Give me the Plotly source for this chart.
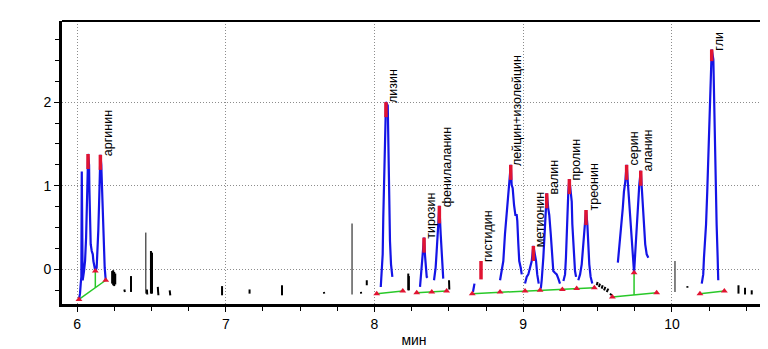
import plotly.graph_objects as go

# ---------------- data (time, min ; signal) ----------------
arg_t = [6.013, 6.020, 6.025, 6.029, 6.032, 6.034, 6.038, 6.047, 6.054, 6.061, 6.065, 6.069, 6.072, 6.074,
         6.081, 6.083, 6.085, 6.087, 6.092, 6.099, 6.106, 6.110, 6.116, 6.123, 6.132, 6.139, 6.143, 6.148,
         6.153, 6.157, 6.163, 6.168, 6.173, 6.177, 6.182, 6.186, 6.193]
arg_y = [-0.36, -0.29, -0.17, -0.09, 1.17, -0.02, -0.13, -0.02, 0.10, 0.38, 0.58, 0.85, 1.17, 1.38,
         1.25, 0.97, 0.77, 0.50, 0.30, 0.22, 0.18, 0.10, 0.04, -0.02, 0.02, 0.22, 0.46, 0.77,
         1.05, 1.37, 1.25, 0.97, 0.65, 0.38, 0.18, 0.02, -0.13]

lys_t = [8.042, 8.048, 8.055, 8.059, 8.064, 8.071, 8.075, 8.077, 8.089, 8.091, 8.093, 8.097, 8.099, 8.104, 8.111, 8.120]
lys_y = [-0.21, -0.02, 0.18, 0.62, 1.01, 1.48, 1.84, 2.00, 1.96, 1.72, 1.44, 1.13, 0.73, 0.34, 0.06, -0.09]

tyr_t = [8.306, 8.313, 8.319, 8.324, 8.328, 8.333, 8.339, 8.344, 8.351, 8.357]
tyr_y = [-0.21, -0.06, 0.06, 0.22, 0.30, 0.38, 0.18, 0.06, -0.09, -0.10]

phe_t = [8.400, 8.411, 8.418, 8.422, 8.429, 8.436, 8.445, 8.452, 8.458, 8.462]
phe_y = [-0.13, 0.02, 0.22, 0.38, 0.54, 0.76, 0.42, 0.14, -0.02, -0.11]

his_t = [8.662, 8.672]
his_y = [-0.27, -0.17]

leu_t = [8.844, 8.855, 8.866, 8.877, 8.889, 8.899, 8.906, 8.916, 8.922, 8.929, 8.938, 8.947, 8.956, 8.960,
         8.967, 8.973, 8.983, 8.990]
leu_y = [-0.13, -0.02, 0.10, 0.42, 0.65, 0.89, 1.05, 1.25, 1.01, 0.97, 0.77, 0.65, 0.65, 0.58,
         0.30, 0.10, 0.02, -0.06]

met_t = [9.012, 9.023, 9.034, 9.045, 9.057, 9.068, 9.079, 9.086, 9.094, 9.104]
met_y = [-0.17, -0.09, -0.06, 0.02, 0.10, 0.28, 0.18, 0.10, -0.06, -0.17]

val_t = [9.118, 9.124, 9.135, 9.142, 9.148, 9.158, 9.168, 9.175, 9.185, 9.193, 9.202, 9.213, 9.225, 9.236, 9.247]
val_y = [-0.23, -0.13, 0.14, 0.34, 0.58, 0.91, 0.73, 0.65, 0.42, 0.14, -0.02, -0.04, -0.06, -0.11, -0.17]

pro_t = [9.270, 9.281, 9.287, 9.292, 9.299, 9.303, 9.310, 9.319, 9.326, 9.330, 9.337, 9.341, 9.348, 9.355]
pro_y = [-0.14, -0.06, 0.14, 0.42, 0.73, 0.93, 1.08, 0.93, 0.81, 0.54, 0.30, 0.10, -0.02, -0.09]

thr_t = [9.370, 9.382, 9.393, 9.400, 9.408, 9.415, 9.422, 9.431, 9.437, 9.444, 9.453, 9.464]
thr_y = [-0.13, -0.06, 0.06, 0.22, 0.42, 0.54, 0.71, 0.54, 0.30, 0.06, -0.09, -0.17]

ser_t = [9.636, 9.644, 9.657, 9.669, 9.677, 9.686, 9.695, 9.704, 9.711, 9.718, 9.724, 9.731, 9.738, 9.745]
ser_y = [0.08, 0.22, 0.50, 0.73, 0.93, 1.05, 1.25, 1.01, 0.85, 0.65, 0.46, 0.22, 0.06, -0.04]

ala_t = [9.745, 9.751, 9.758, 9.767, 9.773, 9.780, 9.790, 9.798, 9.807, 9.814, 9.820, 9.830, 9.841]
ala_y = [-0.04, 0.14, 0.42, 0.65, 0.85, 1.01, 1.18, 0.97, 0.69, 0.50, 0.30, 0.18, 0.14]

gly_t = [10.200, 10.210, 10.215, 10.222, 10.229, 10.237, 10.244, 10.251, 10.256, 10.267, 10.278, 10.282,
         10.287, 10.289, 10.296, 10.300, 10.307, 10.311]
gly_y = [-0.17, -0.06, 0.14, 0.34, 0.54, 0.93, 1.33, 1.72, 2.11, 2.63, 2.51, 2.11,
         1.72, 1.33, 0.93, 0.54, 0.14, -0.13]

# non-integrated signal fragments (black) and thin grey spikes
noise_t = [6.236, 6.236, None, 6.243, 6.243, None, 6.250, 6.250, None, 6.257, 6.257, None,
           6.318, 6.322, None, 6.363, 6.363, None, 6.470, 6.472, None, 6.497, 6.497, None,
           6.504, 6.504, None, 6.543, 6.547, None, 6.623, 6.627, None, 6.975, 6.975, None,
           7.160, 7.160, None, 7.378, 7.378, None, 7.659, 7.663, None, 7.909, 7.910, None,
           7.948, 7.948, None, 8.227, 8.227, None, 8.231, 8.231, None, 8.501, 8.503, None,
           9.494, 9.500, None, 9.509, 9.516, None, 9.527, 9.534, None, 9.543, 9.552, None,
           9.561, 9.572, None, 9.583, 9.595, None,
           10.103, 10.104, None, 10.447, 10.447, None, 10.491, 10.491, None, 10.536, 10.536]
noise_y = [-0.02, -0.17, None, -0.01, -0.19, None, -0.03, -0.20, None, -0.05, -0.18, None,
           -0.24, -0.27, None, -0.08, -0.27, None, -0.24, -0.30, None, 0.22, -0.29, None,
           0.20, -0.29, None, -0.21, -0.31, None, -0.25, -0.31, None, -0.20, -0.31, None,
           -0.24, -0.29, None, -0.19, -0.31, None, -0.27, -0.29, None, -0.27, -0.29, None,
           -0.13, -0.19, None, -0.05, -0.25, None, -0.08, -0.25, None, -0.13, -0.24, None,
           -0.19, -0.15, None, -0.21, -0.17, None, -0.23, -0.19, None, -0.25, -0.21, None,
           -0.27, -0.23, None, -0.29, -0.31, None,
           -0.20, -0.22, None, -0.19, -0.29, None, -0.22, -0.30, None, -0.25, -0.30]

spike_t = [6.462, 6.462, None, 7.849, 7.849, None, 10.020, 10.020]
spike_y = [0.44, -0.29, None, 0.55, -0.30, None, 0.10, -0.27]

# integration baselines and drop lines
base_t = [6.013, 6.193, None, 6.123, 6.123, None, 8.015, 8.190, None, 8.284, 8.485, None,
          8.657, 9.478, None, 9.599, 9.897, None, 9.745, 9.745, None, 10.188, 10.352]
base_y = [-0.36, -0.13, None, -0.02, -0.22, None, -0.29, -0.26, None, -0.28, -0.26, None,
          -0.29, -0.22, None, -0.33, -0.28, None, -0.04, -0.305, None, -0.29, -0.26]

# peak start / end markers
tri_t = [6.013, 6.123, 6.193, 8.015, 8.190, 8.284, 8.385, 8.485, 8.657, 8.844, 9.012, 9.113,
         9.263, 9.359, 9.478, 9.599, 9.745, 9.897, 10.188, 10.352]
tri_y = [-0.36, -0.02, -0.13, -0.29, -0.26, -0.28, -0.27, -0.26, -0.29, -0.27, -0.26, -0.25,
         -0.24, -0.23, -0.22, -0.33, -0.04, -0.28, -0.29, -0.26]

# peak apexes and names
apex_t = [6.074, 6.157, 8.077, 8.333, 8.436, 8.716, 8.916, 9.068, 9.158, 9.310, 9.422, 9.695, 9.790, 10.267]
apex_y = [1.38, 1.37, 2.00, 0.38, 0.76, 0.10, 1.25, 0.28, 0.91, 1.08, 0.71, 1.25, 1.18, 2.63]
apex_lo = [1.20, 1.19, 1.82, 0.20, 0.55, -0.12, 1.07, 0.10, 0.73, 0.90, 0.53, 1.07, 1.00, 2.49]
label_text = ["", "аргинин", "лизин", "тирозин", "фенилаланин", "гистидин", "лейцин+изолейцин",
              "метионин", "валин", "пролин", "треонин", "серин", "аланин", "гли"]

x_ticks = [6, 7, 8, 9, 10]
y_ticks = [0, 1, 2]

# ---------------- figure ----------------
BLUE = "rgb(20,20,230)"
RED = "rgb(225,20,50)"
fig = go.Figure()

fig.add_trace(go.Scatter(x=spike_t, y=spike_y, mode="lines",
                         line=dict(color="rgb(90,90,90)", width=1.5), hoverinfo="skip"))
fig.add_trace(go.Scatter(x=noise_t, y=noise_y, mode="lines",
                         line=dict(color="black", width=2), hoverinfo="skip"))
fig.add_trace(go.Scatter(x=base_t, y=base_y, mode="lines",
                         line=dict(color="rgb(40,200,40)", width=1.5), hoverinfo="skip"))

for tt, yy in [(arg_t, arg_y), (lys_t, lys_y), (tyr_t, tyr_y), (phe_t, phe_y), (his_t, his_y),
               (leu_t, leu_y), (met_t, met_y), (val_t, val_y), (pro_t, pro_y), (thr_t, thr_y),
               (ser_t, ser_y), (ala_t, ala_y), (gly_t, gly_y)]:
    fig.add_trace(go.Scatter(x=tt, y=yy, mode="lines",
                             line=dict(color=BLUE, width=2.2), hoverinfo="skip"))

red_t, red_y = [], []
for t, hi, lo in zip(apex_t, apex_y, apex_lo):
    red_t += [t, t, None]
    red_y += [lo, hi, None]
fig.add_trace(go.Scatter(x=red_t, y=red_y, mode="lines",
                         line=dict(color=RED, width=3.5), hoverinfo="skip"))
fig.add_trace(go.Scatter(x=tri_t, y=tri_y, mode="markers",
                         marker=dict(symbol="triangle-up", size=6, color=RED),
                         hoverinfo="skip"))

for t, y, txt in zip(apex_t, apex_y, label_text):
    if not txt:
        continue
    fig.add_annotation(x=t, y=y, text=txt, textangle=-90, showarrow=False,
                       xanchor="left", yanchor="bottom", xshift=-2, yshift=-3,
                       font=dict(family="Liberation Sans, Arial", size=12.5, color="black"))

# frame: thin top and right lines
fig.add_shape(type="line", xref="paper", yref="paper", x0=0, x1=1, y0=1, y1=1,
              line=dict(color="black", width=2))
fig.add_shape(type="line", xref="paper", yref="paper", x0=1, x1=1, y0=0, y1=1,
              line=dict(color="black", width=2))

# page body has an 8px margin, so the figure is sized to fit inside the window
fig.update_layout(
    width=760, height=341,
    margin=dict(l=54, r=2, t=13, b=42),
    paper_bgcolor="white", plot_bgcolor="white",
    showlegend=False,
    font=dict(family="Liberation Sans, Arial", size=14, color="black"),
)
fig.update_xaxes(
    range=[5.899, 10.632], tickvals=x_ticks, ticktext=[str(v) for v in x_ticks],
    ticks="outside", ticklen=5, tickwidth=1, tickcolor="black",
    minor=dict(dtick=0.25, tick0=0, ticks="outside", ticklen=4, tickcolor="black", showgrid=False),
    showline=True, linecolor="black", linewidth=3, mirror=False,
    showgrid=True, gridcolor="rgb(140,140,140)", griddash="1px,2px", gridwidth=1,
    zeroline=False, title=dict(text="мин", standoff=5, font=dict(size=14)),
)
fig.update_yaxes(
    range=[-0.414, 2.97], tickvals=y_ticks, ticktext=[str(v) for v in y_ticks],
    ticks="outside", ticklen=5, tickwidth=1, tickcolor="black",
    minor=dict(dtick=0.25, tick0=0, ticks="outside", ticklen=4, tickcolor="black", showgrid=False),
    showline=True, linecolor="black", linewidth=3, mirror=False,
    showgrid=True, gridcolor="rgb(140,140,140)", griddash="1px,2px", gridwidth=1,
    zeroline=False,
)

fig.write_html("out.html")
